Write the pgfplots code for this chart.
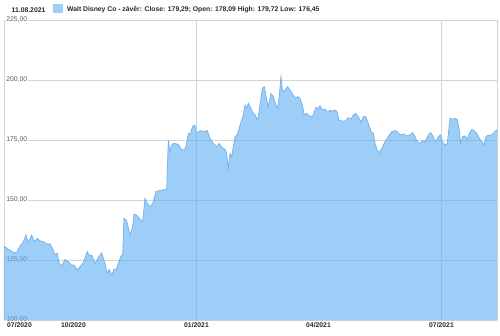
\documentclass[border=0pt]{standalone}
\usepackage{pgfplots}
\pgfplotsset{compat=1.18}
\usepackage{pgfplotstable}
\usepackage{fontspec}
\setmainfont{Liberation Sans}
\definecolor{fillbase}{RGB}{90,173,242}
\definecolor{legfill}{RGB}{156,206,247}
\definecolor{linecol}{RGB}{112,176,236}
\definecolor{gridcol}{RGB}{212,212,212}
\definecolor{txt}{RGB}{40,40,40}
\definecolor{ylab}{RGB}{90,90,90}
\pgfplotstableread{
x v
4 130.8
8.3 129.5
13.3 128.2
16.7 128.0
18.3 129.5
20.7 131.2
23.3 132.6
26 135.4
28.3 132.2
31.7 135.4
34.3 132.6
37.3 134.0
40 133.0
43.3 132.6
46.7 131.7
50 131.7
53.3 129.2
55 127.1
57.3 127.8
59.3 123.6
61.7 122.5
65 125.3
68.3 124.3
71.7 122.9
74 122.9
77.3 120.8
80 122.2
83.3 123.9
87.3 128.5
89.3 126.7
91.7 127.1
95 123.6
98.3 126.1
101.7 128.0
105 123.6
107.3 119.4
109.3 121.1
111.7 118.7
114 121.1
116 120.8
118.3 123.6
120.7 126.4
122.7 127.5
124 142.4
126.7 141.4
130 135.4
132.7 138.9
134 144.2
136.7 143.7
140 142.0
142.7 141.0
145 150.7
147.3 148.6
150 147.2
152.7 148.6
156 153.5
159.3 153.9
163.3 154.2
166.7 154.5
168.3 175.0
170 170.1
171.7 172.9
174 173.6
178.3 173.2
181.7 170.8
185 171.1
186.7 173.6
188.3 177.8
190 177.1
192.7 180.8
195 181.2
196.7 177.8
200 178.9
205 178.5
207.3 178.9
210 175.7
213.3 173.6
216.7 172.2
219.3 173.6
221.7 171.9
225 171.1
226.7 169.4
228.3 163.2
230 169.4
231.7 168.1
235 176.4
237.3 177.1
240 181.2
243.3 185.4
245 189.6
246.7 188.2
248.3 190.3
250 189.0
252.3 186.8
255 185.4
257.7 183.3
260 189.6
262.3 196.5
264.3 197.2
266.7 191.7
268.3 188.9
271 194.4
273.3 193.1
275.7 190.0
277.7 188.2
279 192.4
281 201.4
282.7 195.1
285 195.8
287.7 197.2
290 195.8
293.3 193.7
295.7 192.4
297.7 193.1
300 192.4
302.3 189.6
304.3 185.4
306.7 186.1
309 185.1
311.7 184.7
313.3 185.4
315.7 188.5
318.3 188.2
320 189.3
322.3 187.5
325 187.9
327.7 186.5
330 187.5
332.3 186.8
334.3 187.5
336.7 187.1
339 183.3
341.7 182.9
345 182.9
348.3 184.3
351 183.7
353.3 185.4
355.7 186.1
358.3 184.7
361 182.4
363.3 184.7
365.7 184.7
368.3 181.9
371 178.5
373.3 177.8
375 173.6
377.3 170.8
379.3 169.7
381.7 171.5
385 174.3
388.3 176.4
391.7 178.5
395 178.9
397.3 178.5
400 177.1
403.3 177.5
406.7 176.7
410 177.1
412.7 178.1
415 176.4
417.3 174.3
420 173.6
422.7 174.7
425 174.3
428.3 177.1
430.7 178.1
433.3 176.4
435.3 174.0
438.3 176.4
440.7 177.1
442.7 174.0
445 172.9
447.3 173.6
450 184.0
452.7 183.6
455 184.0
457.3 183.6
459.3 179.2
460.7 173.6
462.7 176.4
465 176.7
467.3 175.3
469.3 177.8
471.7 179.4
474 178.9
476.7 177.8
479.3 175.7
481.7 174.3
484 172.9
486 176.4
488.3 177.1
490.7 176.7
493.3 177.8
496 178.9
497 179.3
}\dis
\begin{document}
\begin{tikzpicture}[x=1pt,y=1pt]
\path[use as bounding box] (0,0) rectangle (500,335);
\begin{axis}[
  at={(4pt,15pt)}, anchor=south west,
  scale only axis, width=493pt, height=300pt,
  xmin=4, xmax=497, ymin=100, ymax=225,
  ytick={100,125,150,175,200,225},
  yticklabels={{100,00},{125,00},{150,00},{175,00},{200,00},{225,00}},
  xtick={196.5,441.5},
  xticklabels={01/2021,07/2021},
  extra x ticks={19.5,73.5,318.5},
  extra x tick labels={07/2020,10/2020,04/2021},
  extra x tick style={grid=none},
  xmajorgrids, ymajorgrids,
  grid style={draw=gridcol, line width=0.8pt},
  major tick length=0pt,
  separate axis lines,
  x axis line style={draw=none},
  y axis line style={draw=gridcol, line width=0.8pt},
  yticklabel style={anchor=west, xshift=1pt, yshift=0.6pt, fill=white, inner xsep=1.2pt, inner ysep=0.6pt,
    font=\fontsize{6.8}{7}\selectfont, text=ylab},
  xticklabel style={font=\fontsize{6.8}{7}\selectfont\bfseries, text=txt, inner sep=1pt, yshift=-1.2pt},
  clip=true,
]
\addplot[draw=none, fill=fillbase, fill opacity=0.6] table[x=x,y=v] {\dis} \closedcycle;
\addplot[draw=linecol, line width=0.7pt, no markers] table[x=x,y=v] {\dis};
\end{axis}
\node[anchor=west, inner sep=0, font=\fontsize{6.8}{7}\selectfont\bfseries, text=txt] at (11.5,325.3) {11.08.2021};
\fill[legfill] (53,322) rectangle (63,331);
\node[anchor=west, inner sep=0, font=\fontsize{6.8}{7}\selectfont\bfseries, text=txt] at (67,325.3) {Walt Disney Co - závěr: Close: 179,29; Open: 178,09 High: 179,72 Low: 176,45};
\end{tikzpicture}
\end{document}
